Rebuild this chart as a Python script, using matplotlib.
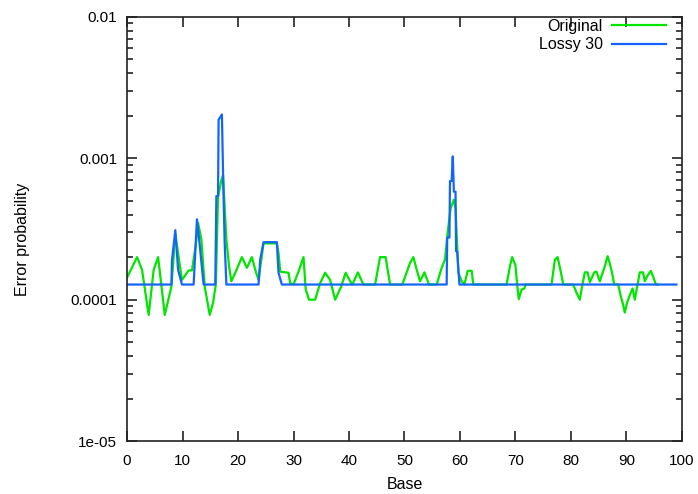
import matplotlib
matplotlib.use("Agg")
import matplotlib.pyplot as plt
from matplotlib.ticker import LogLocator, NullFormatter, FixedLocator

plt.rcParams['font.family'] = ['Liberation Sans', 'DejaVu Sans']

# Original: vertices (base, error probability)
orig_x = [0, 1.8, 2.7, 3.9, 4.8, 5.6, 6.8, 8.0, 8.7, 9.9, 11.1, 11.7, 12.4, 12.8, 13.4,
          14.0, 14.9, 15.5, 16.0, 16.4, 17.0, 17.3, 17.9, 18.4, 18.8, 19.5, 20.7, 21.6,
          22.5, 23.2, 23.7, 24.6, 27.0, 27.3, 27.6, 29.1, 29.4, 30.0, 30.9, 31.8, 32.2,
          32.8, 33.9, 34.8, 35.7, 36.6, 37.5, 38.6, 39.4, 40.2, 40.6, 41.6, 42.6, 44.7,
          45.6, 46.6, 47.4, 49.6, 51.0, 51.6, 52.2, 52.8, 53.6, 54.4, 55.8, 56.7, 57.3,
          57.7, 58.3, 58.9, 59.2, 59.7, 60.3, 60.8, 61.4, 62.1, 62.4, 68.4, 69.0, 69.4,
          70.0, 70.3, 70.6, 71.1, 71.6, 71.8, 76.5, 77.1, 77.6, 78.2, 78.6, 80.4, 81.0,
          81.6, 82.0, 82.5, 83.0, 83.4, 84.2, 84.6, 85.2, 86.1, 86.6, 87.0, 87.4, 87.8,
          88.5, 89.0, 89.4, 89.7, 90.1, 90.7, 91.1, 91.5, 92.0, 92.4, 93.0, 93.3, 93.8,
          94.4, 94.8, 95.3, 95.7]
orig_y = [1.43e-4, 2.0e-4, 1.63e-4, 7.8e-5, 1.63e-4, 2.0e-4, 7.8e-5, 1.24e-4, 2.9e-4,
          1.38e-4, 1.61e-4, 1.61e-4, 2.45e-4, 3.5e-4, 2.66e-4, 1.24e-4, 7.8e-5, 9.5e-5,
          1.28e-4, 5.3e-4, 7.0e-4, 7.6e-4, 2.66e-4, 1.71e-4, 1.35e-4, 1.55e-4, 2.0e-4,
          1.68e-4, 2.0e-4, 1.58e-4, 1.38e-4, 2.5e-4, 2.5e-4, 2.14e-4, 1.58e-4, 1.55e-4,
          1.31e-4, 1.28e-4, 1.58e-4, 2.0e-4, 1.18e-4, 1.0e-4, 1.0e-4, 1.31e-4, 1.55e-4,
          1.38e-4, 1.0e-4, 1.24e-4, 1.55e-4, 1.35e-4, 1.28e-4, 1.56e-4, 1.28e-4, 1.28e-4,
          2.0e-4, 2.0e-4, 1.28e-4, 1.28e-4, 1.82e-4, 2.0e-4, 1.63e-4, 1.35e-4, 1.56e-4,
          1.28e-4, 1.28e-4, 1.68e-4, 1.92e-4, 2.8e-4, 4.4e-4, 5.1e-4, 4.4e-4, 1.55e-4,
          1.35e-4, 1.28e-4, 1.6e-4, 1.6e-4, 1.28e-4, 1.28e-4, 1.72e-4, 2.0e-4, 1.75e-4,
          1.28e-4, 1.01e-4, 1.18e-4, 1.2e-4, 1.28e-4, 1.28e-4, 1.92e-4, 2.0e-4, 1.55e-4,
          1.28e-4, 1.28e-4, 1.12e-4, 1.0e-4, 1.24e-4, 1.56e-4, 1.56e-4, 1.33e-4, 1.56e-4,
          1.58e-4, 1.35e-4, 1.72e-4, 2.03e-4, 1.8e-4, 1.55e-4, 1.28e-4, 1.28e-4, 1.05e-4,
          9.2e-5, 8.1e-5, 9.5e-5, 1.1e-4, 1.2e-4, 1.0e-4, 1.28e-4, 1.56e-4, 1.56e-4,
          1.35e-4, 1.48e-4, 1.6e-4, 1.46e-4, 1.28e-4, 1.28e-4]

# Lossy 30
lossy_x = [0, 8.0, 8.1, 8.7, 9.2, 9.9, 12.0, 12.6, 13.0, 13.8, 15.9, 16.1, 16.4, 16.5,
           17.1, 17.35, 17.6, 17.9, 23.7, 24.0, 24.6, 27.0, 27.3, 27.9, 57.6, 57.7, 58.1,
           58.2, 58.5, 58.7, 58.9, 59.2, 59.3, 59.5, 59.9, 99.0]
lossy_y = [1.28e-4, 1.28e-4, 1.9e-4, 3.1e-4, 1.63e-4, 1.28e-4, 1.28e-4, 3.7e-4, 2.66e-4,
           1.28e-4, 1.28e-4, 5.4e-4, 5.4e-4, 1.87e-3, 2.04e-3, 6.3e-4, 2.5e-4, 1.28e-4,
           1.28e-4, 1.92e-4, 2.55e-4, 2.55e-4, 1.55e-4, 1.28e-4, 1.28e-4, 2.75e-4, 2.75e-4,
           6.9e-4, 6.9e-4, 1.03e-3, 5.8e-4, 5.8e-4, 2.2e-4, 2.2e-4, 1.28e-4, 1.28e-4]

x_ticks = [0, 10, 20, 30, 40, 50, 60, 70, 80, 90, 100]
y_ticks = [1e-5, 1e-4, 1e-3, 1e-2]
y_labels = ['1e-05', '0.0001', '0.001', '0.01']

fig = plt.figure(figsize=(6.98, 4.94), dpi=100)
ax = fig.add_axes([0.182, 0.107, 0.795, 0.859])

ax.plot(orig_x, orig_y, color='#00e600', lw=1.6, label='Original')
ax.plot(lossy_x, lossy_y, color='#1464ff', lw=1.6, label='Lossy 30')

ax.set_yscale('log')
ax.set_xlim(0, 100)
ax.set_ylim(1e-5, 1e-2)
ax.xaxis.set_major_locator(FixedLocator(x_ticks))
ax.set_xticklabels([str(t) for t in x_ticks])
ax.yaxis.set_major_locator(FixedLocator(y_ticks))
ax.set_yticklabels(y_labels)
ax.yaxis.set_minor_locator(LogLocator(base=10, subs=range(2, 10)))
ax.yaxis.set_minor_formatter(NullFormatter())

ax.tick_params(which='both', direction='in', top=True, right=True, labelsize=11,
               width=1.2, color='#222222')
ax.tick_params(which='major', length=7)
ax.tick_params(which='minor', length=4)
ax.tick_params(axis='y', which='major', pad=7)
ax.tick_params(axis='x', which='major', pad=9)
for s in ax.spines.values():
    s.set_linewidth(1.2)
    s.set_color('#222222')

ax.set_xlabel('Base', fontsize=11.5)
ax.set_ylabel('Error probability', fontsize=11.5)
ax.xaxis.set_label_coords(0.5, -0.085)
ax.yaxis.set_label_coords(-0.175, 0.475)

leg = ax.legend(loc='upper right', frameon=False, fontsize=11.5, markerfirst=False,
                handlelength=3.4, handletextpad=0.6, labelspacing=0.2,
                borderpad=0.0, borderaxespad=0.0, bbox_to_anchor=(0.972, 0.995))
for t in leg.get_texts():
    t.set_ha('right')

fig.savefig('out.png', dpi=100)
